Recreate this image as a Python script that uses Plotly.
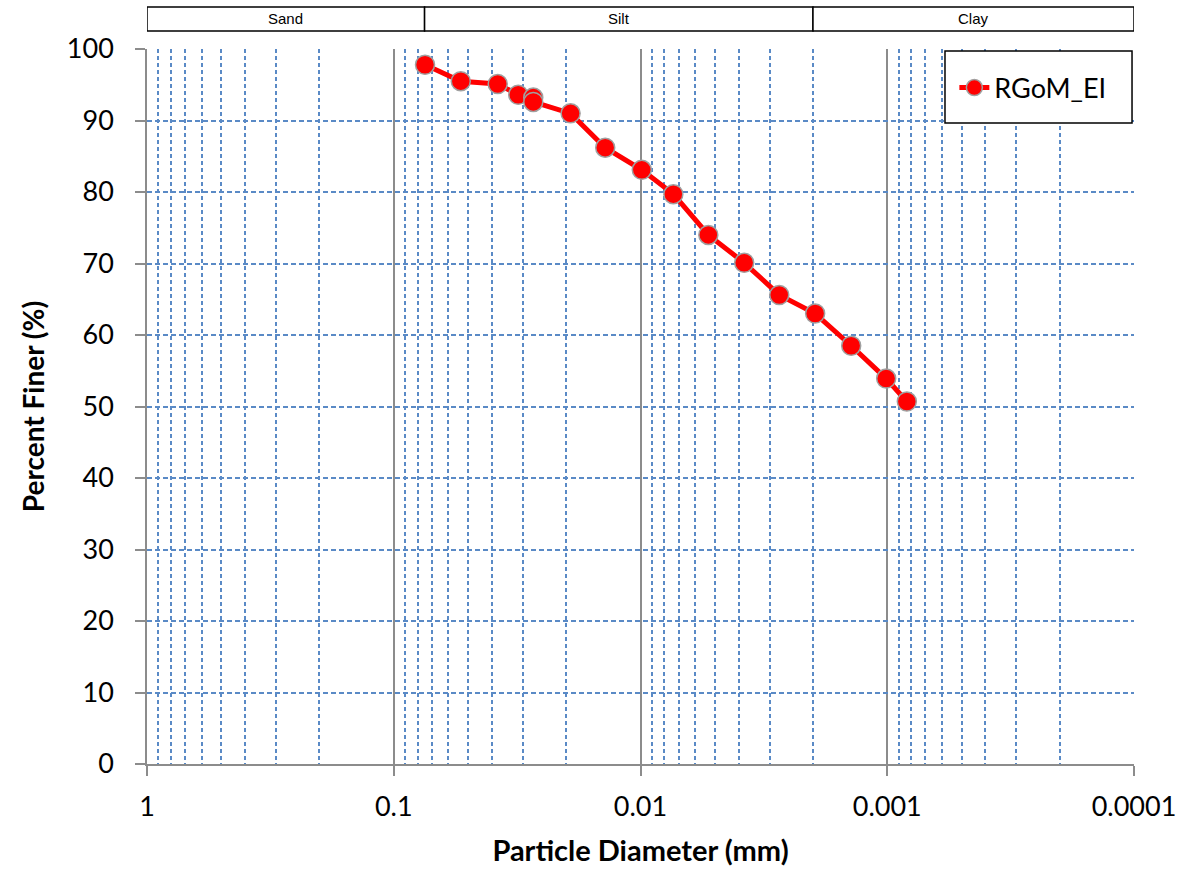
import math
import plotly.graph_objects as go

# Data
diameter_mm = [0.0747, 0.0535, 0.0379, 0.0313, 0.0272, 0.0272, 0.0192, 0.0139, 0.00988,
               0.00736, 0.00531, 0.00380, 0.00274, 0.00196, 0.00140, 0.00101, 0.000833]
percent_finer = [97.8, 95.5, 95.1, 93.6, 93.2, 92.6, 91.0, 86.2, 83.1,
                 79.7, 74.0, 70.1, 65.6, 63.0, 58.5, 53.9, 50.7]
series_name = "RGoM_EI"

zone_names = ["Sand", "Silt", "Clay"]
zone_bounds = [1, 0.075, 0.002, 0.0001]

x_tickvals = [1, 0.1, 0.01, 0.001, 0.0001]
x_ticktext = ["1", "0.1", "0.01", "0.001", "0.0001"]
y_tickvals = list(range(0, 101, 10))

FONT = "Lato"
GRID_BLUE = "#5A8AC6"
AXIS_GRAY = "#8C8C8C"

fig = go.Figure()
fig.add_trace(go.Scatter(
    x=diameter_mm, y=percent_finer, name=series_name, mode="lines+markers",
    line=dict(color="#FF0000", width=5),
    marker=dict(size=19, color="#FF0000", line=dict(color="#A0A0A0", width=1.5)),
))

# zone boxes on top
for i, nm in enumerate(zone_names):
    fig.add_shape(type="rect", xref="x", yref="paper",
                  x0=zone_bounds[i], x1=zone_bounds[i + 1], y0=1.0252, y1=1.0587,
                  line=dict(color="black", width=1.5), fillcolor="white", layer="above")
    lo = math.log10(zone_bounds[i])
    hi = math.log10(zone_bounds[i + 1])
    fig.add_annotation(x=(lo + hi) / 2, xref="x", y=1.042, yref="paper",
                       xanchor="center", yanchor="middle",
                       text=nm, showarrow=False,
                       font=dict(family="Liberation Sans", size=15, color="black"))

# legend frame
fig.add_shape(type="rect", xref="paper", yref="paper",
              x0=0.8085, x1=0.998, y0=0.8965, y1=0.9972,
              line=dict(color="black", width=1.5), fillcolor="white", layer="above")

fig.update_layout(
    width=1187, height=873,
    margin=dict(l=147, r=53, t=49, b=109),
    paper_bgcolor="white", plot_bgcolor="white",
    font=dict(family=FONT, color="black"),
    showlegend=True,
    legend=dict(x=0.818, y=0.9455, xanchor="left", yanchor="middle",
                bgcolor="rgba(0,0,0,0)", borderwidth=0,
                font=dict(size=27, family=FONT)),
    xaxis=dict(
        type="log", range=[0, -4],
        tickvals=x_tickvals, ticktext=x_ticktext,
        tickfont=dict(size=27, family=FONT),
        ticklabelstandoff=8,
        showline=True, linecolor=AXIS_GRAY, linewidth=1.5,
        ticks="outside", ticklen=10, tickcolor=AXIS_GRAY, tickwidth=1.5,
        showgrid=True, gridcolor=AXIS_GRAY, gridwidth=2,
        minor=dict(dtick="D1", showgrid=True, gridcolor=GRID_BLUE, gridwidth=1.5,
                   griddash="4px,3px", ticks=""),
        zeroline=False,
        title=dict(text="<b>Particle Diameter (mm)</b>", font=dict(size=29, family=FONT), standoff=20),
    ),
    yaxis=dict(
        range=[0, 100], tickvals=y_tickvals,
        tickfont=dict(size=27, family=FONT),
        ticklabelstandoff=16,
        showline=True, linecolor=AXIS_GRAY, linewidth=1.5,
        ticks="outside", ticklen=10, tickcolor=AXIS_GRAY, tickwidth=1.5,
        showgrid=True, gridcolor=GRID_BLUE, gridwidth=1.5, griddash="5px,3px",
        zeroline=False,
        title=dict(text="<b>Percent Finer (%)</b>", font=dict(size=28, family=FONT), standoff=14),
    ),
)

fig.write_html("out.html")
